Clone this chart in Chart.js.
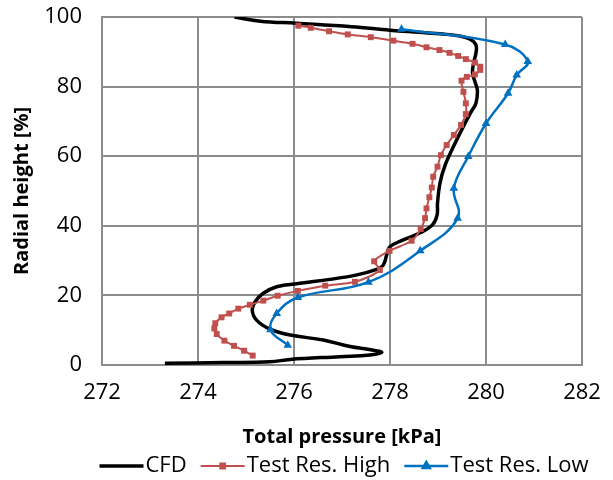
<!DOCTYPE html>
<html>
<head>
<meta charset="utf-8">
<script src="https://cdn.jsdelivr.net/npm/chart.js@4/dist/chart.umd.min.js"></script>
<style>
  html, body { margin: 0; padding: 0; background: #fff; }
  canvas { display: block; }
</style>
</head>
<body>
<canvas id="chart" width="613" height="480"></canvas>
<script>
/* ── Data ─────────────────────────────────────────────────────────────────── */
const SERIES_NAMES = ["CFD", "Test Res. High", "Test Res. Low"];

const cfdPressure = [
  274.76, 275.30, 276.05, 277.20, 278.00, 278.60, 279.10, 279.46, 279.67, 279.79,
  279.79, 279.74, 279.72, 279.77, 279.82, 279.79, 279.68, 279.49, 279.32, 279.15,
  279.04, 278.99, 278.98, 278.88, 278.63, 278.25, 278.00, 277.94, 277.86, 277.72,
  277.31, 276.75, 276.13, 275.64, 275.36, 275.19, 275.13, 275.22, 275.50, 275.92,
  276.61, 277.17, 277.60, 277.83, 277.58, 276.96, 275.92, 275.50, 274.53, 273.31,
];
const cfdHeight = [
  100.0, 98.8, 98.2, 97.2, 96.2, 95.6, 95.1, 94.5, 93.6, 92.0,
  89.6, 86.7, 83.8, 81.4, 79.0, 75.2, 72.5, 67.5, 62.7, 57.5,
  52.2, 46.5, 43.0, 40.2, 38.0, 35.8, 34.0, 32.1, 28.7, 27.5,
  25.9, 24.6, 23.5, 22.5, 20.6, 18.2, 15.8, 12.9, 10.3, 8.6,
  7.2, 5.3, 4.4, 3.6, 2.9, 2.4, 1.6, 0.9, 0.7, 0.5,
];

const highPressure = [
  276.09, 276.35, 276.73, 277.12, 277.60, 278.07, 278.47, 278.76, 279.03, 279.24,
  279.42, 279.58, 279.77, 279.88, 279.88, 279.77, 279.60, 279.49, 279.53, 279.58,
  279.58, 279.48, 279.33, 279.18, 279.06, 278.99, 278.90, 278.87, 278.82, 278.76,
  278.73, 278.64, 278.45, 277.99, 277.67, 277.79, 277.27, 276.65, 276.08, 275.66,
  275.36, 275.08, 274.84, 274.65, 274.49, 274.36, 274.34, 274.39, 274.55, 274.75,
  274.96, 275.14,
];
const highHeight = [
  97.5, 96.9, 95.9, 95.0, 94.2, 93.2, 92.3, 91.3, 90.5, 89.7,
  88.8, 87.9, 86.9, 85.7, 84.8, 83.5, 82.8, 81.7, 78.5, 75.2,
  72.1, 69.0, 66.1, 63.2, 60.3, 57.0, 54.1, 51.0, 48.2, 45.0,
  42.2, 39.1, 35.7, 32.8, 29.8, 27.3, 23.9, 22.8, 21.3, 19.9,
  18.5, 17.3, 16.2, 14.8, 13.7, 12.0, 10.5, 8.9, 7.0, 5.5,
  4.1, 2.7,
];

const lowPressure = [
  278.24, 280.40, 280.87, 280.64, 280.46, 280.00, 279.63, 279.33, 279.41, 278.63,
  277.55, 276.08, 275.64, 275.51, 275.87,
];
const lowHeight = [
  96.5, 92.1, 87.2, 83.3, 78.1, 69.4, 59.9, 50.8, 42.2, 32.8,
  23.8, 19.4, 14.8, 10.1, 5.7,
];

const X_MIN = 272, X_MAX = 282, X_STEP = 2;
const Y_MIN = 0, Y_MAX = 100, Y_STEP = 20;

/* ── Helpers ──────────────────────────────────────────────────────────────── */
const FONT = '"Open Sans", "DejaVu Sans", sans-serif';
const GRID = "#8c8c8c";

function toPoints(xs, ys) {
  return xs.map((x, i) => ({ x, y: ys[i] }));
}

// legend drawn as line + marker, like the office-style legend
const lineLegend = {
  id: "lineLegend",
  afterDraw(chart) {
    const { ctx, chartArea } = chart;
    const lineLen = 44, textGap = 2, itemGap = 14, cy = 466;
    ctx.save();
    ctx.font = `22px ${FONT}`;
    ctx.textBaseline = "middle";
    const items = chart.data.datasets.map((ds) => ({ ds, w: ctx.measureText(ds.label).width }));
    const total = items.reduce((s, it) => s + lineLen + textGap + it.w, 0) + itemGap * (items.length - 1);
    let x = (chartArea.left + chartArea.right) / 2 + 2 - total / 2;
    items.forEach(({ ds, w }) => {
      ctx.strokeStyle = ds.borderColor;
      ctx.lineWidth = ds.borderWidth;
      ctx.beginPath();
      ctx.moveTo(x, cy);
      ctx.lineTo(x + lineLen, cy);
      ctx.stroke();
      if (ds.pointRadius > 0) {
        ctx.fillStyle = ds.pointBackgroundColor;
        ctx.strokeStyle = ds.pointBorderColor;
        Chart.helpers.drawPoint(ctx, {
          pointStyle: ds.pointStyle, radius: ds.pointRadius * 0.8, rotation: 0, borderWidth: 1,
        }, x + lineLen / 2, cy);
      }
      ctx.fillStyle = "#000";
      ctx.fillText(ds.label, x + lineLen + textGap, cy);
      x += lineLen + textGap + w + itemGap;
    });
    ctx.restore();
  },
};

/* ── Chart ────────────────────────────────────────────────────────────────── */
new Chart(document.getElementById("chart").getContext("2d"), {
  type: "scatter",
  data: {
    datasets: [
      {
        label: SERIES_NAMES[0],
        data: toPoints(cfdPressure, cfdHeight),
        showLine: true,
        borderColor: "#000000",
        borderWidth: 3.5,
        pointRadius: 0,
        tension: 0.4,
        order: 3,
      },
      {
        label: SERIES_NAMES[1],
        data: toPoints(highPressure, highHeight),
        showLine: true,
        borderColor: "#c0504d",
        backgroundColor: "#c0504d",
        pointBackgroundColor: "#c0504d",
        pointBorderColor: "#c0504d",
        borderWidth: 2,
        pointStyle: "rect",
        pointRadius: 4.2,
        pointBorderWidth: 0,
        tension: 0.3,
        order: 2,
      },
      {
        label: SERIES_NAMES[2],
        data: toPoints(lowPressure, lowHeight),
        showLine: true,
        borderColor: "#0070c0",
        backgroundColor: "#0070c0",
        pointBackgroundColor: "#0070c0",
        pointBorderColor: "#0070c0",
        borderWidth: 2.5,
        pointStyle: "triangle",
        pointRadius: 5,
        pointBorderWidth: 0,
        tension: 0.4,
        order: 1,
      },
    ],
  },
  options: {
    responsive: false,
    devicePixelRatio: 1,
    animation: false,
    layout: { autoPadding: false, padding: { left: 0, right: 31, top: 17, bottom: 0 } },
    plugins: {
      legend: { display: false },
      tooltip: { enabled: false },
    },
    scales: {
      x: {
        type: "linear",
        min: X_MIN,
        max: X_MAX,
        // fixed box, no label-overflow padding
        afterFit: (scale) => { scale.height = 115; scale.paddingLeft = 0; scale.paddingRight = 0; },
        ticks: { stepSize: X_STEP, padding: 15, color: "#000", font: { family: FONT, size: 22 } },
        grid: { color: GRID, lineWidth: 2, drawTicks: false },
        border: { color: GRID, width: 2 },
        title: {
          display: true,
          text: "Total pressure [kPa]",
          color: "#000",
          font: { family: FONT, size: 20, weight: "bold" },
          padding: { top: 0, bottom: 31 },
        },
      },
      y: {
        min: Y_MIN,
        max: Y_MAX,
        afterFit: (scale) => { scale.width = 102; scale.paddingTop = 0; scale.paddingBottom = 0; },
        ticks: { stepSize: Y_STEP, padding: 20, color: "#000", font: { family: FONT, size: 22 } },
        grid: { color: GRID, lineWidth: 2, drawTicks: false },
        border: { color: GRID, width: 2 },
        title: {
          display: true,
          text: "Radial height [%]",
          color: "#000",
          font: { family: FONT, size: 20, weight: "bold" },
          padding: { top: 10, bottom: 0 },
        },
      },
    },
  },
  plugins: [lineLegend],
});
</script>
</body>
</html>
